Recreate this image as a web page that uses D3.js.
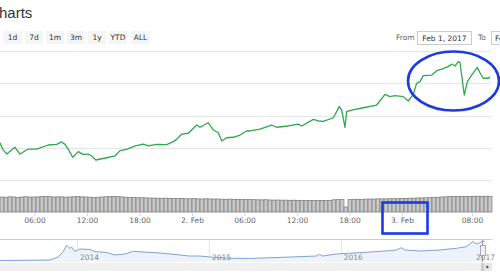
<!DOCTYPE html>
<html lang="en">
<head>
<meta charset="utf-8">
<title>Charts</title>
<script src="https://d3js.org/d3.v7.min.js"></script>
<style>
body { margin:0; background:#fff; overflow:hidden; }
svg { display:block; font-family:"DejaVu Sans", sans-serif; }
.grid line { stroke:#e6e6e6; stroke-width:1; shape-rendering:crispEdges; }
.price { fill:none; stroke:#30a84c; stroke-width:1.3; stroke-linejoin:round; }
.vol { fill:#c8c8c8; stroke:#7a7a7a; stroke-width:0.7; }
.tick-label { fill:#666; font-size:7.5px; text-anchor:middle; }
.btn rect { fill:#f5f5f5; }
.btn text { fill:#333; font-size:7.5px; text-anchor:middle; }
.mark { fill:none; stroke:#1a3be0; stroke-width:2.6; }
</style>
</head>
<body>
<div id="chart"></div>
<script>
var width = 500, height = 280;

// main price series: hours since Feb 1 2017 00:00, price
var priceHours = [2.0,2.31,2.77,3.71,4.29,5.23,6.19,7.52,8.48,9.05,9.43,9.81,10.31,10.95,11.45,12.09,12.48,12.94,14.19,15.14,
  15.71,16.48,17.43,18.38,18.95,19.91,21.05,21.81,22.19,22.77,23.52,24.48,24.86,25.81,26.38,26.95,27.34,27.91,28.66,29.43,
  30.19,30.57,31.71,33.05,33.62,34.95,36.09,36.48,37.81,38.38,38.95,40.09,40.78,41.05,41.43,41.62,42.19,43.52,45.05,46.0,
  46.57,47.14,48.09,48.66,49.23,49.62,50.0,50.38,51.34,51.91,52.48,53.23,53.62,54.0,54.38,54.57,55.06,55.41,55.91,56.55,
  56.86,57.23,57.81,58.0];
var priceValues = [983.1,979.0,976.1,980.3,976.1,979.2,979.2,981.7,982.1,983.6,982.1,979.0,974.1,977.6,975.9,976.1,974.9,972.4,973.8,974.9,
  978.2,979.0,981.1,982.3,981.1,982.1,981.9,983.8,985.2,988.5,989.0,994.1,992.7,995.5,991.0,989.3,984.2,986.2,986.5,987.9,
  990.4,990.4,991.6,994.1,992.7,993.5,994.7,993.5,997.6,996.6,996.4,998.6,1005.5,1003.4,992.7,1002.4,1003.4,1004.8,1006.5,1013.1,
  1011.7,1012.3,1011.7,1009.0,1013.1,1020.0,1021.0,1024.7,1025.1,1027.8,1028.8,1030.3,1031.9,1030.7,1033.4,1033.0,1012.7,1021.0,1025.1,1029.9,
  1026.5,1023.1,1023.1,1024.1];
var priceTicks = [960, 980, 1000, 1020, 1040];

// volume bars, one per interval
var volumes = [15,14.8,15.2,15,14.6,15,15.3,14.9,15,15.1,15.4,15.5,15.3,15,15.2,15.1,14.8,15,15.2,15.4,15.1,15,14.8,
  14.6,14.8,15,15.2,15.4,15.6,15.3,15.1,14.8,14.5,14.4,14.2,14.3,14.1,14,
  13.9,13.8,13.7,13.9,13.6,13.5,13.4,13.5,13.3,13.2,13.4,13.1,13,13.2,13.1,12.9,13,12.8,12.7,12.9,12.6,12.7,12.5,12.4,12.5,
  12.3,12.2,12.1,12.3,12,11.9,12,11.8,11.9,11.7,11.8,11.6,11.7,11.5,11.6,11.5,11.4,11.6,11.5,11.7,12.2,12.6,12.4,
  5,
  12.5,12.6,12.8,12.7,12.9,13,12.9,13.1,13.2,13.1,13.3,13.2,13.4,
  13.5,13.6,13.8,13.9,14,14.1,14.2,14.4,14.6,14.8,15,
  15.2,15.4,15.5,15.6,15.6,15.7,15.6,15.7,15.8,15.7,15.8,15.7];

// x axis ticks (hours since Feb 1 00:00)
var timeTickHours = [6, 12, 18, 24, 30, 36, 42, 48, 56];
var timeTickLabels = ["06:00", "12:00", "18:00", "2. Feb", "06:00", "12:00", "18:00", "3. Feb", "08:00"];

// navigator series
var navDates = ["2013-06-01","2013-10-18","2013-11-10","2013-11-24","2013-12-03","2013-12-12","2013-12-17","2013-12-26",
  "2014-01-09","2014-02-06","2014-02-20","2014-03-24","2014-04-16","2014-05-14","2014-06-06","2014-07-03","2014-08-09",
  "2014-09-24","2014-11-08","2014-12-06","2015-01-13","2015-03-08","2015-04-23","2015-07-25","2015-10-25","2015-11-03",
  "2015-11-12","2015-12-19","2016-02-22","2016-05-15","2016-06-03","2016-06-17","2016-06-26","2016-08-07","2016-10-01",
  "2016-11-16","2016-12-14","2016-12-31","2017-01-11","2017-01-20","2017-01-27","2017-02-03"];
var navValues = [75,100,250,525,835,685,750,525,650,625,515,475,350,400,535,500,465,385,300,300,235,185,175,235,300,385,
  300,400,465,565,600,715,600,550,600,685,765,1015,900,965,1050,1030];
var navYears = ["2014", "2015", "2016", "2017"];

var buttons = ["1d", "7d", "1m", "3m", "1y", "YTD", "ALL"];

var base = new Date(2017, 1, 1, 0, 0);
function hourDate(h){ return new Date(base.getTime() + h * 3600000); }

var svg = d3.select("#chart").append("svg").attr("width", width).attr("height", height);

// title and range selector
svg.append("text").attr("x", -1).attr("y", 18).text("harts")
  .style("font-family", "'Liberation Sans', Arial, sans-serif").style("font-size", "15px").style("fill", "#333");

var bx = [3, 25, 46, 67, 88, 109, 131], bw = [19, 18, 18, 18, 18, 18, 19];
var btn = svg.selectAll(".btn").data(buttons).enter().append("g").attr("class", "btn");
btn.append("rect").attr("x", function(d, i){ return bx[i]; }).attr("y", 31).attr("width", function(d, i){ return bw[i]; }).attr("height", 13);
btn.append("text").attr("x", function(d, i){ return bx[i] + bw[i] / 2; }).attr("y", 40).text(function(d){ return d; });

svg.append("text").attr("x", 396).attr("y", 40).text("From").style("font-size", "7.5px").style("fill", "#666");
svg.append("rect").attr("x", 417.5).attr("y", 31.5).attr("width", 54).attr("height", 13).attr("fill", "#fff").attr("stroke", "#ccc");
svg.append("text").attr("x", 444.5).attr("y", 40.5).attr("text-anchor", "middle").text("Feb 1, 2017").style("font-size", "7.5px").style("fill", "#333");
svg.append("text").attr("x", 478).attr("y", 40).text("To").style("font-size", "7.5px").style("fill", "#666");
svg.append("rect").attr("x", 491.5).attr("y", 31.5).attr("width", 54).attr("height", 13).attr("fill", "#fff").attr("stroke", "#ccc");
svg.append("text").attr("x", 495).attr("y", 40.5).text("Feb 3, 2017").style("font-size", "7.5px").style("fill", "#333");

// main chart
var plotW = 492;
var x = d3.scaleTime().domain([hourDate(2), hourDate(2 + plotW / 8.75)]).range([0, plotW]);
var y = d3.scaleLinear().domain([960, 1040]).range([180, 51]);

svg.append("g").attr("class", "grid").selectAll("line").data(priceTicks).enter().append("line")
  .attr("x1", 0).attr("x2", plotW)
  .attr("y1", function(d){ return Math.round(y(d)) + 0.5; }).attr("y2", function(d){ return Math.round(y(d)) + 0.5; });

var line = d3.line().x(function(d){ return x(hourDate(d[0])); }).y(function(d){ return y(d[1]); });
svg.append("path").attr("class", "price").attr("d", line(d3.zip(priceHours, priceValues)));

// volume
var vx = d3.scaleLinear().domain([0, volumes.length]).range([0, plotW]);
var vy = d3.scaleLinear().domain([0, 16]).range([212, 196]);
svg.append("g").selectAll("rect").data(volumes).enter().append("rect").attr("class", "vol")
  .attr("x", function(d, i){ return vx(i); }).attr("width", vx(1) - vx(0))
  .attr("y", function(d){ return vy(d); }).attr("height", function(d){ return vy(0) - vy(d); });

// time axis
var tg = svg.append("g").selectAll("g").data(timeTickHours).enter().append("g")
  .attr("transform", function(d){ return "translate(" + x(hourDate(d)) + ",0)"; });
tg.append("line").attr("y1", 212).attr("y2", 216).attr("stroke", "#ccd6eb");
tg.append("text").attr("class", "tick-label").attr("y", 223).text(function(d, i){ return timeTickLabels[i]; });

// navigator
var nx = d3.scaleTime().domain([new Date(2014, 0, 1), new Date(2017, 0, 1)]).range([77, 473]);
var ny = d3.scaleLinear().domain([0, 1100]).range([262, 240]);
var navData = d3.zip(navDates.map(function(d){ return d3.timeParse("%Y-%m-%d")(d); }), navValues);

svg.append("line").attr("x1", 0).attr("x2", plotW).attr("y1", 239.5).attr("y2", 239.5).attr("stroke", "#ccc");
svg.append("g").attr("class", "grid").selectAll("line").data(navYears).enter().append("line")
  .attr("x1", function(d){ return Math.round(nx(new Date(+d, 0, 1))) + 0.5; })
  .attr("x2", function(d){ return Math.round(nx(new Date(+d, 0, 1))) + 0.5; })
  .attr("y1", 240).attr("y2", 262);

var area = d3.area().x(function(d){ return nx(d[0]); }).y0(262).y1(function(d){ return ny(d[1]); });
var nline = d3.line().x(function(d){ return nx(d[0]); }).y(function(d){ return ny(d[1]); });
svg.append("path").attr("d", area(navData)).attr("fill", "#eef2fa");
svg.append("path").attr("d", nline(navData)).attr("fill", "none").attr("stroke", "#7398cf").attr("stroke-width", 0.9);

svg.append("g").selectAll("text").data(navYears).enter().append("text")
  .attr("x", function(d){ return nx(new Date(+d, 0, 1)) + 3; }).attr("y", 260)
  .text(function(d){ return d; }).style("font-size", "7.5px").style("fill", "#888");

// selected range edge and handle
svg.append("line").attr("x1", 482.5).attr("x2", 482.5).attr("y1", 240).attr("y2", 262).attr("stroke", "#999");
svg.append("rect").attr("x", 480.5).attr("y", 245.5).attr("width", 5).attr("height", 10).attr("fill", "#f2f2f2").attr("stroke", "#999").attr("stroke-width", 0.8);

// scrollbar
svg.append("rect").attr("x", 0).attr("y", 263).attr("width", plotW).attr("height", 8).attr("fill", "#f0f0f0");
svg.append("rect").attr("x", 481).attr("y", 263).attr("width", 3).attr("height", 8).attr("fill", "#ccc");
svg.append("rect").attr("x", 484).attr("y", 263).attr("width", 8).attr("height", 8).attr("fill", "#e6e6e6");
svg.append("path").attr("d", "M486.5,265.5 L489,267 L486.5,268.5 Z").attr("fill", "#333");

// annotations
svg.append("ellipse").attr("class", "mark").attr("cx", 453.5).attr("cy", 81).attr("rx", 45.5).attr("ry", 29.5);
svg.append("rect").attr("class", "mark").attr("x", 382.5).attr("y", 202.5).attr("width", 45).attr("height", 31);
</script>
</body>
</html>
